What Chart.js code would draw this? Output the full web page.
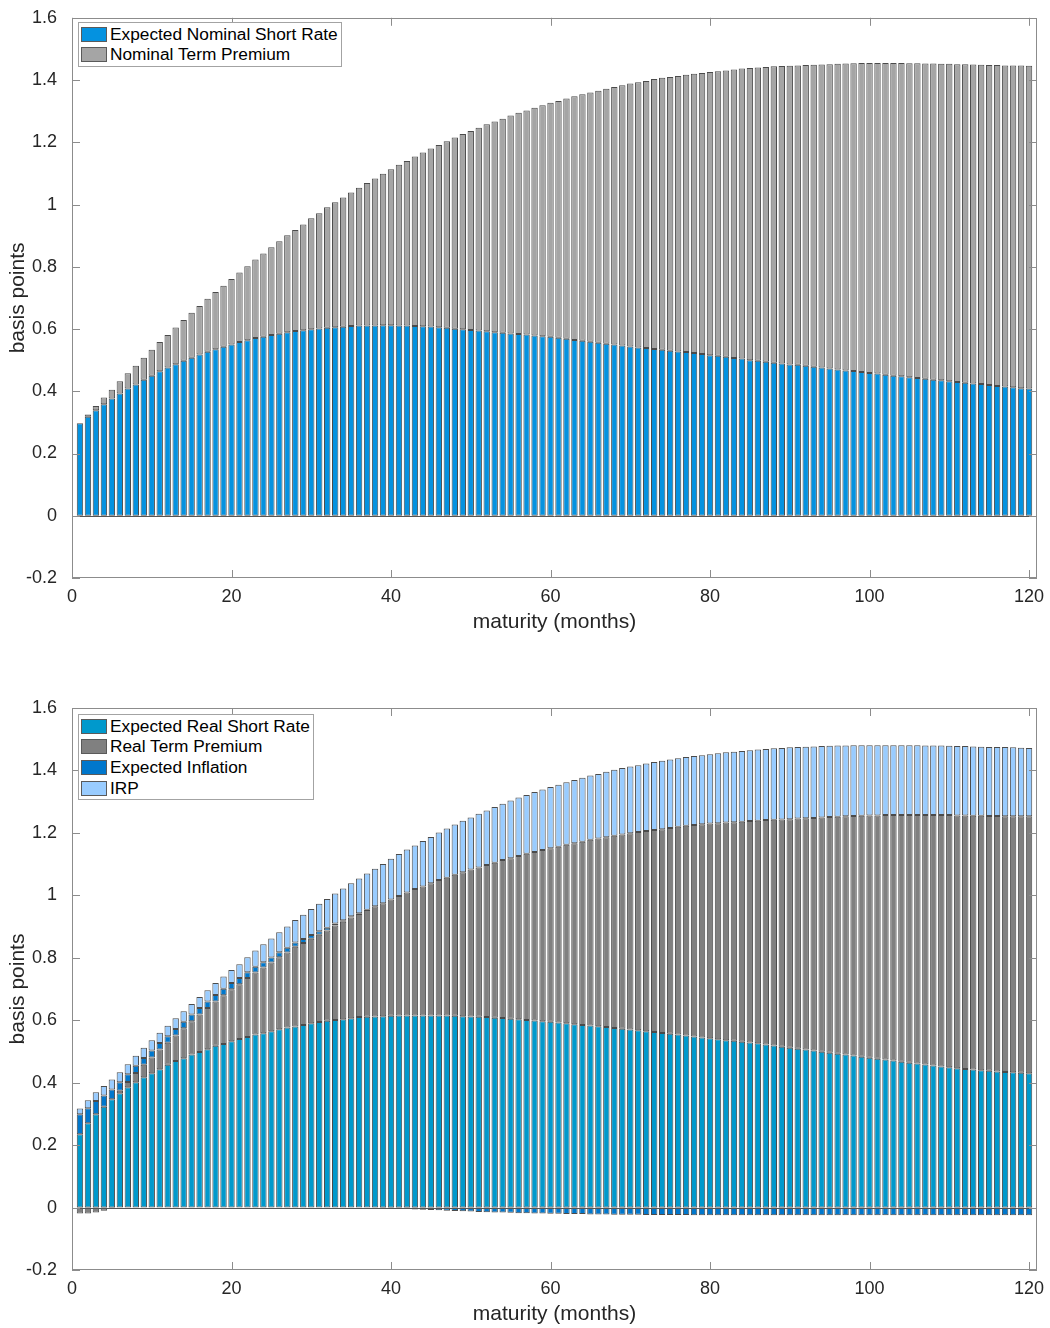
<!DOCTYPE html>
<html>
<head>
<meta charset="utf-8">
<script src="https://cdn.jsdelivr.net/npm/chart.js@4.4.1/dist/chart.umd.min.js"></script>
<style>
  body { margin: 0; background: #fff; font-family: "Liberation Sans", Arial, sans-serif; }
  .panel { position: absolute; left: 0; width: 1050px; height: 664px; }
  .legend { position: absolute; background: #fff; border: 1px solid #a3a3a3; padding: 1px 3px 1px 2px; font-size: 17.3px; color: #000; }
  .row { display: flex; align-items: center; height: 20.6px; white-space: nowrap; }
  .sw { width: 26px; height: 15px; border: 1px solid #5a5a5a; box-sizing: border-box; margin-right: 3px; }
</style>
</head>
<body>
<div class="panel" style="top:0">
  <canvas id="topChart" width="1050" height="664"></canvas>
  <div class="legend" id="topLegend" style="left:78px;top:22px;"></div>
</div>
<div class="panel" style="top:664px">
  <canvas id="bottomChart" width="1050" height="664"></canvas>
  <div class="legend" id="bottomLegend" style="left:78px;top:50px;"></div>
</div>
<script>
// maturities in months
const months = [
  1, 2, 3, 4, 5, 6, 7, 8, 9, 10, 11, 12, 13, 14, 15, 16, 17, 18, 19, 20,
  21, 22, 23, 24, 25, 26, 27, 28, 29, 30, 31, 32, 33, 34, 35, 36, 37, 38, 39, 40,
  41, 42, 43, 44, 45, 46, 47, 48, 49, 50, 51, 52, 53, 54, 55, 56, 57, 58, 59, 60,
  61, 62, 63, 64, 65, 66, 67, 68, 69, 70, 71, 72, 73, 74, 75, 76, 77, 78, 79, 80,
  81, 82, 83, 84, 85, 86, 87, 88, 89, 90, 91, 92, 93, 94, 95, 96, 97, 98, 99, 100,
  101, 102, 103, 104, 105, 106, 107, 108, 109, 110, 111, 112, 113, 114, 115, 116, 117, 118, 119, 120
];
const xTickValues = [0, 20, 40, 60, 80, 100, 120];
const yTickValues = [-0.2, 0, 0.2, 0.4, 0.6, 0.8, 1, 1.2, 1.4, 1.6];

// top panel
const nominalShortRate = [
  0.297, 0.318, 0.339, 0.358, 0.377, 0.393, 0.409, 0.422, 0.437, 0.450,
  0.464, 0.476, 0.487, 0.498, 0.508, 0.518, 0.527, 0.535, 0.543, 0.550,
  0.558, 0.564, 0.571, 0.575, 0.581, 0.585, 0.590, 0.594, 0.596, 0.599,
  0.602, 0.604, 0.606, 0.607, 0.610, 0.611, 0.611, 0.611, 0.612, 0.612,
  0.611, 0.611, 0.610, 0.609, 0.608, 0.606, 0.604, 0.601, 0.599, 0.597,
  0.595, 0.593, 0.590, 0.588, 0.586, 0.584, 0.582, 0.579, 0.577, 0.575,
  0.572, 0.569, 0.565, 0.562, 0.559, 0.556, 0.553, 0.550, 0.547, 0.544,
  0.541, 0.539, 0.536, 0.533, 0.530, 0.528, 0.526, 0.523, 0.520, 0.516,
  0.514, 0.511, 0.507, 0.505, 0.500, 0.498, 0.495, 0.492, 0.489, 0.486,
  0.485, 0.482, 0.479, 0.476, 0.473, 0.470, 0.467, 0.465, 0.462, 0.459,
  0.457, 0.453, 0.450, 0.448, 0.445, 0.443, 0.440, 0.437, 0.435, 0.432,
  0.430, 0.427, 0.425, 0.423, 0.420, 0.417, 0.415, 0.413, 0.410, 0.409
];
const nominalTermPremium = [
  0.000, 0.007, 0.014, 0.022, 0.028, 0.039, 0.049, 0.060, 0.071, 0.083,
  0.094, 0.105, 0.118, 0.131, 0.144, 0.156, 0.170, 0.184, 0.196, 0.211,
  0.224, 0.238, 0.252, 0.268, 0.282, 0.297, 0.311, 0.324, 0.340, 0.357,
  0.370, 0.387, 0.401, 0.416, 0.429, 0.443, 0.458, 0.473, 0.487, 0.501,
  0.517, 0.529, 0.544, 0.558, 0.572, 0.585, 0.599, 0.614, 0.628, 0.639,
  0.652, 0.665, 0.677, 0.688, 0.700, 0.711, 0.720, 0.732, 0.742, 0.752,
  0.761, 0.772, 0.783, 0.792, 0.801, 0.810, 0.819, 0.828, 0.836, 0.845,
  0.852, 0.858, 0.867, 0.874, 0.880, 0.885, 0.891, 0.897, 0.903, 0.910,
  0.914, 0.920, 0.927, 0.932, 0.939, 0.942, 0.947, 0.952, 0.956, 0.960,
  0.962, 0.966, 0.970, 0.974, 0.978, 0.982, 0.986, 0.989, 0.993, 0.996,
  0.998, 1.002, 1.005, 1.007, 1.009, 1.011, 1.013, 1.016, 1.017, 1.020,
  1.021, 1.024, 1.025, 1.026, 1.028, 1.031, 1.032, 1.034, 1.037, 1.037
];

// bottom panel
const realShortRate = [
  0.235, 0.270, 0.299, 0.323, 0.347, 0.366, 0.385, 0.401, 0.417, 0.430,
  0.443, 0.457, 0.469, 0.478, 0.490, 0.498, 0.507, 0.518, 0.524, 0.533,
  0.540, 0.546, 0.554, 0.558, 0.565, 0.571, 0.577, 0.580, 0.585, 0.590,
  0.594, 0.598, 0.601, 0.603, 0.606, 0.610, 0.611, 0.612, 0.613, 0.614,
  0.615, 0.615, 0.615, 0.615, 0.615, 0.615, 0.615, 0.614, 0.613, 0.612,
  0.611, 0.610, 0.608, 0.607, 0.605, 0.603, 0.601, 0.599, 0.597, 0.595,
  0.593, 0.590, 0.587, 0.585, 0.583, 0.581, 0.578, 0.575, 0.573, 0.570,
  0.568, 0.565, 0.562, 0.559, 0.557, 0.554, 0.551, 0.548, 0.545, 0.542,
  0.539, 0.536, 0.534, 0.531, 0.529, 0.526, 0.522, 0.519, 0.515, 0.512,
  0.509, 0.506, 0.503, 0.499, 0.496, 0.493, 0.490, 0.487, 0.483, 0.480,
  0.477, 0.474, 0.471, 0.467, 0.464, 0.461, 0.458, 0.455, 0.452, 0.449,
  0.446, 0.444, 0.442, 0.440, 0.438, 0.436, 0.434, 0.433, 0.432, 0.430
];
const realTermPremium = [
  -0.019, -0.019, -0.016, -0.010, -0.003, 0.008, 0.017, 0.030, 0.040, 0.051,
  0.063, 0.071, 0.082, 0.096, 0.107, 0.120, 0.132, 0.142, 0.156, 0.166,
  0.175, 0.189, 0.199, 0.211, 0.220, 0.231, 0.240, 0.255, 0.262, 0.271,
  0.280, 0.289, 0.302, 0.312, 0.323, 0.330, 0.342, 0.353, 0.362, 0.373,
  0.383, 0.394, 0.405, 0.413, 0.424, 0.434, 0.441, 0.452, 0.461, 0.471,
  0.478, 0.487, 0.496, 0.506, 0.514, 0.523, 0.532, 0.540, 0.548, 0.556,
  0.563, 0.572, 0.580, 0.587, 0.595, 0.601, 0.608, 0.616, 0.622, 0.629,
  0.635, 0.641, 0.647, 0.653, 0.659, 0.666, 0.672, 0.677, 0.683, 0.688,
  0.692, 0.697, 0.700, 0.705, 0.709, 0.713, 0.719, 0.723, 0.728, 0.732,
  0.737, 0.741, 0.745, 0.750, 0.755, 0.759, 0.763, 0.767, 0.772, 0.776,
  0.779, 0.783, 0.786, 0.790, 0.793, 0.796, 0.799, 0.802, 0.805, 0.808,
  0.810, 0.812, 0.813, 0.815, 0.816, 0.818, 0.819, 0.820, 0.821, 0.823
];
const expectedInflation = [
  0.064, 0.048, 0.042, 0.036, 0.031, 0.027, 0.025, 0.023, 0.022, 0.022,
  0.021, 0.021, 0.021, 0.021, 0.021, 0.021, 0.021, 0.021, 0.021, 0.020,
  0.020, 0.019, 0.018, 0.017, 0.016, 0.016, 0.015, 0.014, 0.013, 0.012,
  0.011, 0.009, 0.007, 0.005, 0.004, 0.003, 0.001, -0.001, -0.002, -0.003,
  -0.004, -0.005, -0.006, -0.007, -0.008, -0.009, -0.010, -0.011, -0.012, -0.013,
  -0.014, -0.015, -0.016, -0.016, -0.017, -0.018, -0.018, -0.019, -0.019, -0.020,
  -0.020, -0.021, -0.021, -0.021, -0.022, -0.022, -0.022, -0.023, -0.023, -0.023,
  -0.023, -0.024, -0.024, -0.024, -0.024, -0.024, -0.024, -0.025, -0.025, -0.025,
  -0.025, -0.025, -0.025, -0.025, -0.025, -0.025, -0.025, -0.025, -0.025, -0.025,
  -0.025, -0.025, -0.025, -0.025, -0.025, -0.025, -0.025, -0.025, -0.025, -0.025,
  -0.025, -0.025, -0.025, -0.025, -0.025, -0.025, -0.025, -0.025, -0.025, -0.025,
  -0.025, -0.025, -0.025, -0.025, -0.025, -0.025, -0.025, -0.025, -0.025, -0.025
];
const inflationRiskPremium = [
  0.018, 0.026, 0.028, 0.030, 0.032, 0.032, 0.032, 0.032, 0.033, 0.033,
  0.033, 0.033, 0.034, 0.034, 0.034, 0.035, 0.036, 0.038, 0.039, 0.042,
  0.044, 0.048, 0.052, 0.057, 0.061, 0.064, 0.068, 0.072, 0.078, 0.083,
  0.088, 0.092, 0.096, 0.102, 0.106, 0.111, 0.116, 0.120, 0.125, 0.130,
  0.134, 0.138, 0.140, 0.146, 0.148, 0.152, 0.158, 0.161, 0.165, 0.166,
  0.172, 0.175, 0.179, 0.180, 0.185, 0.187, 0.188, 0.192, 0.194, 0.196,
  0.198, 0.200, 0.202, 0.205, 0.206, 0.207, 0.210, 0.211, 0.213, 0.214,
  0.214, 0.216, 0.218, 0.219, 0.219, 0.219, 0.220, 0.221, 0.221, 0.222,
  0.224, 0.225, 0.226, 0.226, 0.227, 0.228, 0.228, 0.229, 0.229, 0.230,
  0.229, 0.229, 0.229, 0.229, 0.228, 0.228, 0.227, 0.227, 0.226, 0.225,
  0.225, 0.224, 0.224, 0.224, 0.224, 0.224, 0.223, 0.223, 0.223, 0.222,
  0.222, 0.222, 0.222, 0.221, 0.221, 0.221, 0.222, 0.221, 0.220, 0.219
];

const topSeries = [
  { label: 'Expected Nominal Short Rate', values: nominalShortRate, color: '#0492e0' },
  { label: 'Nominal Term Premium', values: nominalTermPremium, color: '#a5a5a5' }
];
const bottomSeries = [
  { label: 'Expected Real Short Rate', values: realShortRate, color: '#0099cc' },
  { label: 'Real Term Premium', values: realTermPremium, color: '#808080' },
  { label: 'Expected Inflation', values: expectedInflation, color: '#0077cc' },
  { label: 'IRP', values: inflationRiskPremium, color: '#99ccff' }
];

const FONT = '"Liberation Sans", Arial, sans-serif';

// box round the plot, inward ticks and the zero baseline, like matlab axes
const framePlugin = {
  id: 'frame',
  afterDatasetsDraw(chart) {
    const { ctx, chartArea: a, scales } = chart;
    const x = scales.x, y = scales.y;
    ctx.save();
    ctx.lineWidth = 1;
    const y0 = Math.round(y.getPixelForValue(0)) + 0.5;
    ctx.strokeStyle = '#555';
    ctx.beginPath();
    ctx.moveTo(a.left, y0);
    ctx.lineTo(a.right, y0);
    ctx.stroke();

    ctx.strokeStyle = '#8c8c8c';
    ctx.strokeRect(Math.round(a.left) + 0.5, Math.round(a.top) + 0.5, Math.round(a.width) - 1, Math.round(a.height) - 1);
    ctx.beginPath();
    yTickValues.forEach(v => {
      const p = Math.round(y.getPixelForValue(v)) + 0.5;
      ctx.moveTo(a.left, p); ctx.lineTo(a.left + 8, p);
      ctx.moveTo(a.right, p); ctx.lineTo(a.right - 8, p);
    });
    xTickValues.forEach(v => {
      const p = Math.round(x.getPixelForValue(v)) + 0.5;
      ctx.moveTo(p, a.bottom); ctx.lineTo(p, a.bottom - 8);
      ctx.moveTo(p, a.top); ctx.lineTo(p, a.top + 8);
    });
    ctx.stroke();
    ctx.restore();
  }
};

function buildLegend(id, series) {
  const box = document.getElementById(id);
  series.forEach(s => {
    const row = document.createElement('div');
    row.className = 'row';
    const sw = document.createElement('span');
    sw.className = 'sw';
    sw.style.background = s.color;
    const txt = document.createElement('span');
    txt.textContent = s.label;
    row.appendChild(sw);
    row.appendChild(txt);
    box.appendChild(row);
  });
}

function makeChart(canvasId, series, padTop, padBottom) {
  const ctx = document.getElementById(canvasId).getContext('2d');
  const datasets = series.map(s => ({
    label: s.label,
    data: months.map((m, i) => ({ x: m, y: s.values[i] })),
    backgroundColor: s.color,
    borderColor: 'rgba(15,15,15,0.75)',
    borderWidth: 1,
    borderSkipped: false,
    barPercentage: 0.8,
    categoryPercentage: 1.0,
    stack: 'all'
  }));

  return new Chart(ctx, {
    type: 'bar',
    data: { datasets: datasets },
    options: {
      responsive: false,
      animation: false,
      layout: { padding: { top: padTop, bottom: padBottom, left: 0, right: 13 } },
      plugins: { legend: { display: false }, tooltip: { enabled: false } },
      scales: {
        x: {
          type: 'linear',
          stacked: true,
          offset: false,
          min: 0,
          max: 121,
          afterBuildTicks: s => { s.ticks = xTickValues.map(v => ({ value: v })); },
          afterFit: s => { s.height = 57; },
          grid: { display: false, offset: false },
          border: { display: false },
          ticks: { font: { family: FONT, size: 18 }, color: '#262626', padding: 0, maxRotation: 0 },
          title: { display: true, text: 'maturity (months)', font: { family: FONT, size: 21 }, color: '#262626', padding: 0 }
        },
        y: {
          stacked: true,
          min: -0.2,
          max: 1.6,
          afterBuildTicks: s => { s.ticks = yTickValues.map(v => ({ value: v })); },
          afterFit: s => { s.width = 72; },
          grid: { display: false },
          border: { display: false },
          ticks: {
            font: { family: FONT, size: 18 }, color: '#262626', padding: 7,
            callback: v => String(+v.toFixed(1))
          },
          title: { display: true, text: 'basis points', font: { family: FONT, size: 21 }, color: '#262626', padding: { top: 6, bottom: 0 } }
        }
      }
    },
    plugins: [framePlugin]
  });
}

buildLegend('topLegend', topSeries);
buildLegend('bottomLegend', bottomSeries);
makeChart('topChart', topSeries, 15, 29);
makeChart('bottomChart', bottomSeries, 44, 1);
</script>
</body>
</html>
